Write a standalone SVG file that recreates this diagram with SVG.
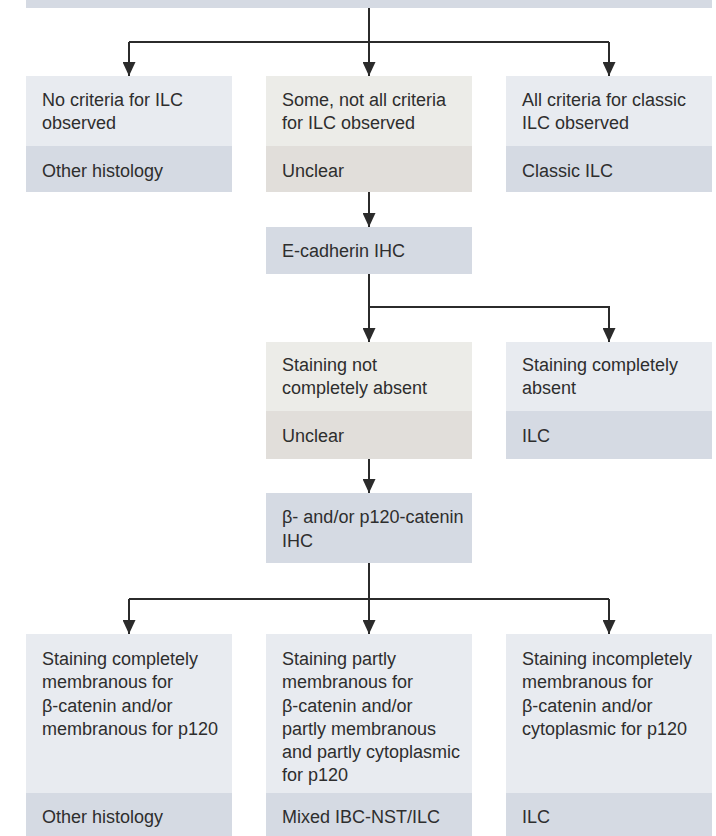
<svg xmlns="http://www.w3.org/2000/svg" width="716" height="836" viewBox="0 0 716 836">
<style>
.t{font-family:"Liberation Sans",Arial,sans-serif;font-size:18px;fill:#2e2e2e}
.b1{fill:#e8ebf0}
.b2{fill:#d5dae3}
.g1{fill:#ecece8}
.g2{fill:#e1deda}
.c{fill:none;stroke:#2b2b2b;stroke-width:2}
</style>
<defs>
<marker id="ah" viewBox="0 0 14 13" refX="14" refY="6.5" markerWidth="14" markerHeight="13" markerUnits="userSpaceOnUse" orient="auto">
<path d="M0,0 L14,6.5 L0,13 z" fill="#2b2b2b"/>
</marker>
</defs>
<rect width="716" height="836" fill="#ffffff"/>
<g id="top"><rect class="b2" x="26" y="0" width="686" height="8"/></g>
<g id="connectors">
<path class="c" d="M369,8 V42 M129,42 H609"/>
<path class="c" d="M129,42 V76" marker-end="url(#ah)"/>
<path class="c" d="M369,42 V76" marker-end="url(#ah)"/>
<path class="c" d="M609,42 V76" marker-end="url(#ah)"/>
<path class="c" d="M369,192 V227" marker-end="url(#ah)"/>
<path class="c" d="M369,274 V342" marker-end="url(#ah)"/>
<path class="c" d="M369,307 H609 V342" marker-end="url(#ah)"/>
<path class="c" d="M369,459 V493" marker-end="url(#ah)"/>
<path class="c" d="M369,563 V599 M129,599 H609"/>
<path class="c" d="M129,599 V634" marker-end="url(#ah)"/>
<path class="c" d="M369,599 V634" marker-end="url(#ah)"/>
<path class="c" d="M609,599 V634" marker-end="url(#ah)"/>
</g>
<g id="no-criteria">
<rect class="b1" x="26" y="76" width="206" height="70"/>
<rect class="b2" x="26" y="146" width="206" height="46"/>
<text class="t" x="42" y="106">No criteria for ILC</text>
<text class="t" x="42" y="129">observed</text>
<text class="t" x="42" y="177">Other histology</text>
</g>
<g id="some-criteria">
<rect class="g1" x="266" y="76" width="206" height="70"/>
<rect class="g2" x="266" y="146" width="206" height="46"/>
<text class="t" x="282" y="106">Some, not all criteria</text>
<text class="t" x="282" y="129">for ILC observed</text>
<text class="t" x="282" y="177">Unclear</text>
</g>
<g id="all-criteria">
<rect class="b1" x="506" y="76" width="206" height="70"/>
<rect class="b2" x="506" y="146" width="206" height="46"/>
<text class="t" x="522" y="106">All criteria for classic</text>
<text class="t" x="522" y="129">ILC observed</text>
<text class="t" x="522" y="177">Classic ILC</text>
</g>
<g id="ecadherin">
<rect class="b2" x="266" y="227" width="206" height="47"/>
<text class="t" x="282" y="257">E-cadherin IHC</text>
</g>
<g id="not-absent">
<rect class="g1" x="266" y="342" width="206" height="69"/>
<rect class="g2" x="266" y="411" width="206" height="48"/>
<text class="t" x="282" y="371">Staining not</text>
<text class="t" x="282" y="394">completely absent</text>
<text class="t" x="282" y="442">Unclear</text>
</g>
<g id="absent">
<rect class="b1" x="506" y="342" width="206" height="69"/>
<rect class="b2" x="506" y="411" width="206" height="48"/>
<text class="t" x="522" y="371">Staining completely</text>
<text class="t" x="522" y="394">absent</text>
<text class="t" x="522" y="442">ILC</text>
</g>
<g id="catenin">
<rect class="b2" x="266" y="493" width="206" height="70"/>
<text class="t" x="282" y="523">β- and/or p120-catenin</text>
<text class="t" x="282" y="547">IHC</text>
</g>
<g id="complete-membranous">
<rect class="b1" x="26" y="634" width="206" height="159"/>
<rect class="b2" x="26" y="793" width="206" height="43"/>
<text class="t" x="42" y="665">Staining completely</text>
<text class="t" x="42" y="688">membranous for</text>
<text class="t" x="42" y="712">β-catenin and/or</text>
<text class="t" x="42" y="735">membranous for p120</text>
<text class="t" x="42" y="823">Other histology</text>
</g>
<g id="partly-membranous">
<rect class="b1" x="266" y="634" width="206" height="159"/>
<rect class="b2" x="266" y="793" width="206" height="43"/>
<text class="t" x="282" y="665">Staining partly</text>
<text class="t" x="282" y="688">membranous for</text>
<text class="t" x="282" y="712">β-catenin and/or</text>
<text class="t" x="282" y="735">partly membranous</text>
<text class="t" x="282" y="758">and partly cytoplasmic</text>
<text class="t" x="282" y="781">for p120</text>
<text class="t" x="282" y="823">Mixed IBC-NST/ILC</text>
</g>
<g id="incomplete-membranous">
<rect class="b1" x="506" y="634" width="206" height="159"/>
<rect class="b2" x="506" y="793" width="206" height="43"/>
<text class="t" x="522" y="665">Staining incompletely</text>
<text class="t" x="522" y="688">membranous for</text>
<text class="t" x="522" y="712">β-catenin and/or</text>
<text class="t" x="522" y="735">cytoplasmic for p120</text>
<text class="t" x="522" y="823">ILC</text>
</g>
</svg>
